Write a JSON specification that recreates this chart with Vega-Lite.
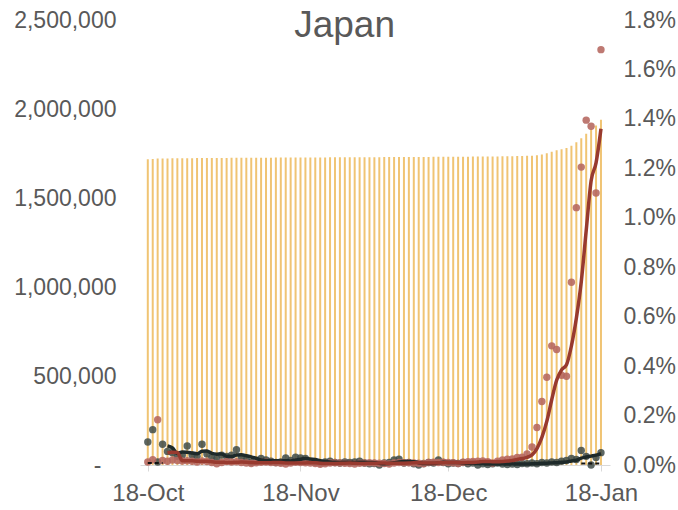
{
  "$schema": "https://vega.github.io/schema/vega-lite/v6.json",
  "width": 470,
  "height": 445,
  "autosize": {"type": "none"},
  "padding": {"left": 140, "top": 20, "right": 68, "bottom": 45},
  "background": "white",
  "config": {"view": {"stroke": null}, "font": "Liberation Sans"},
  "title": {"text": "Japan", "fontSize": 37, "font": "Liberation Sans", "fontWeight": "normal", "color": "#595959", "anchor": "middle", "frame": "bounds", "offset": -36},
  "data": {"values": [
    {"d":"2021-10-18","cum":1718300,"red":0.00012,"dark":0.00093,"redAvg":null,"darkAvg":null,"dash":0.00008},
    {"d":"2021-10-19","cum":1718660,"red":0.00021,"dark":0.00143,"redAvg":null,"darkAvg":null,"dash":0.00008},
    {"d":"2021-10-20","cum":1721790,"red":0.00183,"dark":0.00012,"redAvg":null,"darkAvg":null,"dash":0.00008},
    {"d":"2021-10-21","cum":1722100,"red":0.00018,"dark":0.00084,"redAvg":null,"darkAvg":null,"dash":0.00008},
    {"d":"2021-10-22","cum":1722360,"red":0.00015,"dark":0.00055,"redAvg":0.000498,"darkAvg":0.000774,"dash":null},
    {"d":"2021-10-23","cum":1722700,"red":0.00020,"dark":0.00050,"redAvg":0.000514,"darkAvg":0.000688,"dash":null},
    {"d":"2021-10-24","cum":1723010,"red":0.00018,"dark":0.00035,"redAvg":0.000508,"darkAvg":0.000472,"dash":null},
    {"d":"2021-10-25","cum":1723290,"red":0.00016,"dark":0.00040,"redAvg":0.000174,"darkAvg":0.000528,"dash":null},
    {"d":"2021-10-26","cum":1723580,"red":0.00017,"dark":0.00077,"redAvg":0.000172,"darkAvg":0.000514,"dash":null},
    {"d":"2021-10-27","cum":1723840,"red":0.00015,"dark":0.00040,"redAvg":0.000172,"darkAvg":0.000484,"dash":null},
    {"d":"2021-10-28","cum":1724050,"red":0.00012,"dark":0.00035,"redAvg":0.000156,"darkAvg":0.000454,"dash":null},
    {"d":"2021-10-29","cum":1724320,"red":0.00016,"dark":0.00084,"redAvg":0.000152,"darkAvg":0.000552,"dash":null},
    {"d":"2021-10-30","cum":1724560,"red":0.00014,"dark":0.00045,"redAvg":0.000148,"darkAvg":0.000562,"dash":null},
    {"d":"2021-10-31","cum":1724730,"red":0.00010,"dark":0.00030,"redAvg":0.000134,"darkAvg":0.000468,"dash":null},
    {"d":"2021-11-01","cum":1724820,"red":0.00005,"dark":0.00025,"redAvg":0.000114,"darkAvg":0.000438,"dash":null},
    {"d":"2021-11-02","cum":1724990,"red":0.00010,"dark":0.00040,"redAvg":0.000110,"darkAvg":0.000448,"dash":null},
    {"d":"2021-11-03","cum":1725230,"red":0.00014,"dark":0.00035,"redAvg":0.000106,"darkAvg":0.000350,"dash":null},
    {"d":"2021-11-04","cum":1725440,"red":0.00012,"dark":0.00040,"redAvg":0.000102,"darkAvg":0.000340,"dash":null},
    {"d":"2021-11-05","cum":1725660,"red":0.00013,"dark":0.00062,"redAvg":0.000108,"darkAvg":0.000404,"dash":null},
    {"d":"2021-11-06","cum":1725830,"red":0.00010,"dark":0.00030,"redAvg":0.000118,"darkAvg":0.000414,"dash":null},
    {"d":"2021-11-07","cum":1725970,"red":0.00008,"dark":0.00020,"redAvg":0.000114,"darkAvg":0.000374,"dash":null},
    {"d":"2021-11-08","cum":1726070,"red":0.00006,"dark":0.00010,"redAvg":0.000098,"darkAvg":0.000324,"dash":null},
    {"d":"2021-11-09","cum":1726220,"red":0.00009,"dark":0.00015,"redAvg":0.000092,"darkAvg":0.000274,"dash":null},
    {"d":"2021-11-10","cum":1726410,"red":0.00011,"dark":0.00026,"redAvg":0.000088,"darkAvg":0.000202,"dash":null},
    {"d":"2021-11-11","cum":1726620,"red":0.00012,"dark":0.00020,"redAvg":0.000092,"darkAvg":0.000182,"dash":null},
    {"d":"2021-11-12","cum":1726790,"red":0.00010,"dark":0.00015,"redAvg":0.000096,"darkAvg":0.000172,"dash":null},
    {"d":"2021-11-13","cum":1726950,"red":0.00009,"dark":0.00010,"redAvg":0.000102,"darkAvg":0.000172,"dash":null},
    {"d":"2021-11-14","cum":1727070,"red":0.00007,"dark":0.00012,"redAvg":0.000098,"darkAvg":0.000166,"dash":null},
    {"d":"2021-11-15","cum":1727140,"red":0.00004,"dark":0.00028,"redAvg":0.000084,"darkAvg":0.000170,"dash":null},
    {"d":"2021-11-16","cum":1727280,"red":0.00008,"dark":0.00018,"redAvg":0.000076,"darkAvg":0.000166,"dash":null},
    {"d":"2021-11-17","cum":1727470,"red":0.00011,"dark":0.00032,"redAvg":0.000078,"darkAvg":0.000200,"dash":null},
    {"d":"2021-11-18","cum":1727640,"red":0.00010,"dark":0.00028,"redAvg":0.000080,"darkAvg":0.000236,"dash":null},
    {"d":"2021-11-19","cum":1727800,"red":0.00009,"dark":0.00026,"redAvg":0.000084,"darkAvg":0.000264,"dash":null},
    {"d":"2021-11-20","cum":1727940,"red":0.00008,"dark":0.00015,"redAvg":0.000092,"darkAvg":0.000238,"dash":null},
    {"d":"2021-11-21","cum":1728040,"red":0.00006,"dark":0.00010,"redAvg":0.000088,"darkAvg":0.000222,"dash":null},
    {"d":"2021-11-22","cum":1728090,"red":0.00003,"dark":0.00008,"redAvg":0.000072,"darkAvg":0.000174,"dash":null},
    {"d":"2021-11-23","cum":1728180,"red":0.00005,"dark":0.00012,"redAvg":0.000062,"darkAvg":0.000142,"dash":null},
    {"d":"2021-11-24","cum":1728320,"red":0.00008,"dark":0.00015,"redAvg":0.000060,"darkAvg":0.000120,"dash":null},
    {"d":"2021-11-25","cum":1728470,"red":0.00009,"dark":0.00010,"redAvg":0.000062,"darkAvg":0.000110,"dash":null},
    {"d":"2021-11-26","cum":1728610,"red":0.00008,"dark":0.00008,"redAvg":0.000066,"darkAvg":0.000106,"dash":null},
    {"d":"2021-11-27","cum":1728730,"red":0.00007,"dark":0.00012,"redAvg":0.000074,"darkAvg":0.000114,"dash":null},
    {"d":"2021-11-28","cum":1728830,"red":0.00006,"dark":0.00010,"redAvg":0.000076,"darkAvg":0.000110,"dash":null},
    {"d":"2021-11-29","cum":1728900,"red":0.00004,"dark":0.00012,"redAvg":0.000068,"darkAvg":0.000104,"dash":null},
    {"d":"2021-11-30","cum":1729020,"red":0.00007,"dark":0.00015,"redAvg":0.000064,"darkAvg":0.000114,"dash":null},
    {"d":"2021-12-01","cum":1729160,"red":0.00008,"dark":0.00008,"redAvg":0.000064,"darkAvg":0.000114,"dash":null},
    {"d":"2021-12-02","cum":1729310,"red":0.00009,"dark":0.00005,"redAvg":0.000068,"darkAvg":0.000100,"dash":null},
    {"d":"2021-12-03","cum":1729450,"red":0.00008,"dark":0.00006,"redAvg":0.000072,"darkAvg":0.000092,"dash":null},
    {"d":"2021-12-04","cum":1729570,"red":0.00007,"dark":0.00000,"redAvg":0.000078,"darkAvg":0.000068,"dash":null},
    {"d":"2021-12-05","cum":1729670,"red":0.00006,"dark":0.00008,"redAvg":0.000076,"darkAvg":0.000054,"dash":null},
    {"d":"2021-12-06","cum":1729740,"red":0.00004,"dark":0.00010,"redAvg":0.000068,"darkAvg":0.000058,"dash":null},
    {"d":"2021-12-07","cum":1729880,"red":0.00008,"dark":0.00020,"redAvg":0.000066,"darkAvg":0.000088,"dash":null},
    {"d":"2021-12-08","cum":1730050,"red":0.00010,"dark":0.00023,"redAvg":0.000070,"darkAvg":0.000122,"dash":null},
    {"d":"2021-12-09","cum":1730200,"red":0.00009,"dark":0.00008,"redAvg":0.000074,"darkAvg":0.000138,"dash":null},
    {"d":"2021-12-10","cum":1730360,"red":0.00009,"dark":0.00010,"redAvg":0.000080,"darkAvg":0.000142,"dash":null},
    {"d":"2021-12-11","cum":1730500,"red":0.00008,"dark":0.00005,"redAvg":0.000088,"darkAvg":0.000132,"dash":null},
    {"d":"2021-12-12","cum":1730620,"red":0.00007,"dark":0.00000,"redAvg":0.000086,"darkAvg":0.000092,"dash":null},
    {"d":"2021-12-13","cum":1730710,"red":0.00005,"dark":0.00006,"redAvg":0.000076,"darkAvg":0.000058,"dash":null},
    {"d":"2021-12-14","cum":1730880,"red":0.00010,"dark":0.00010,"redAvg":0.000078,"darkAvg":0.000062,"dash":null},
    {"d":"2021-12-15","cum":1731070,"red":0.00011,"dark":0.00008,"redAvg":0.000082,"darkAvg":0.000058,"dash":null},
    {"d":"2021-12-16","cum":1731240,"red":0.00010,"dark":0.00020,"redAvg":0.000086,"darkAvg":0.000088,"dash":null},
    {"d":"2021-12-17","cum":1731430,"red":0.00011,"dark":0.00010,"redAvg":0.000094,"darkAvg":0.000108,"dash":null},
    {"d":"2021-12-18","cum":1731600,"red":0.00010,"dark":0.00005,"redAvg":0.000104,"darkAvg":0.000106,"dash":null},
    {"d":"2021-12-19","cum":1731760,"red":0.00009,"dark":0.00008,"redAvg":0.000102,"darkAvg":0.000102,"dash":null},
    {"d":"2021-12-20","cum":1731860,"red":0.00006,"dark":0.00006,"redAvg":0.000092,"darkAvg":0.000098,"dash":null},
    {"d":"2021-12-21","cum":1732050,"red":0.00011,"dark":0.00010,"redAvg":0.000094,"darkAvg":0.000078,"dash":null},
    {"d":"2021-12-22","cum":1732270,"red":0.00013,"dark":0.00005,"redAvg":0.000098,"darkAvg":0.000068,"dash":null},
    {"d":"2021-12-23","cum":1732510,"red":0.00014,"dark":0.00008,"redAvg":0.000106,"darkAvg":0.000074,"dash":null},
    {"d":"2021-12-24","cum":1732770,"red":0.00015,"dark":0.00000,"redAvg":0.000118,"darkAvg":0.000058,"dash":null},
    {"d":"2021-12-25","cum":1733050,"red":0.00016,"dark":0.00005,"redAvg":0.000138,"darkAvg":0.000056,"dash":null},
    {"d":"2021-12-26","cum":1733270,"red":0.00013,"dark":0.00002,"redAvg":0.000142,"darkAvg":0.000040,"dash":null},
    {"d":"2021-12-27","cum":1733410,"red":0.00008,"dark":0.00005,"redAvg":0.000132,"darkAvg":0.000040,"dash":null},
    {"d":"2021-12-28","cum":1733670,"red":0.00015,"dark":0.00008,"redAvg":0.000134,"darkAvg":0.000040,"dash":null},
    {"d":"2021-12-29","cum":1734010,"red":0.00020,"dark":0.00004,"redAvg":0.000144,"darkAvg":0.000048,"dash":null},
    {"d":"2021-12-30","cum":1734410,"red":0.00023,"dark":0.00002,"redAvg":0.000158,"darkAvg":0.000042,"dash":null},
    {"d":"2021-12-31","cum":1734820,"red":0.00024,"dark":0.00004,"redAvg":0.000180,"darkAvg":0.000046,"dash":null},
    {"d":"2022-01-01","cum":1735360,"red":0.00031,"dark":0.00002,"redAvg":0.000226,"darkAvg":0.000040,"dash":null},
    {"d":"2022-01-02","cum":1735910,"red":0.00032,"dark":0.00006,"redAvg":0.000260,"darkAvg":0.000036,"dash":null},
    {"d":"2022-01-03","cum":1736690,"red":0.00045,"dark":0.00005,"redAvg":0.000310,"darkAvg":0.000038,"dash":null},
    {"d":"2022-01-04","cum":1737960,"red":0.00073,"dark":0.00008,"redAvg":0.000410,"darkAvg":0.000050,"dash":null},
    {"d":"2022-01-05","cum":1740600,"red":0.00152,"dark":0.00005,"redAvg":0.000666,"darkAvg":0.000052,"dash":null},
    {"d":"2022-01-06","cum":1745070,"red":0.00257,"dark":0.00010,"redAvg":0.001118,"darkAvg":0.000068,"dash":null},
    {"d":"2022-01-07","cum":1751290,"red":0.00355,"dark":0.00008,"redAvg":0.001764,"darkAvg":0.000072,"dash":null},
    {"d":"2022-01-08","cum":1759770,"red":0.00482,"dark":0.00012,"redAvg":0.002638,"darkAvg":0.000086,"dash":null},
    {"d":"2022-01-09","cum":1768020,"red":0.00467,"dark":0.00010,"redAvg":0.003426,"darkAvg":0.000090,"dash":null},
    {"d":"2022-01-10","cum":1774460,"red":0.00363,"dark":0.00015,"redAvg":0.003848,"darkAvg":0.000110,"dash":null},
    {"d":"2022-01-11","cum":1780840,"red":0.00359,"dark":0.00018,"redAvg":0.004052,"darkAvg":0.000126,"dash":null},
    {"d":"2022-01-12","cum":1794080,"red":0.00739,"dark":0.00026,"redAvg":0.004820,"darkAvg":0.000162,"dash":null},
    {"d":"2022-01-13","cum":1812940,"red":0.01041,"dark":0.00022,"redAvg":0.005938,"darkAvg":0.000190,"dash":null},
    {"d":"2022-01-14","cum":1834990,"red":0.01205,"dark":0.00059,"redAvg":0.007414,"darkAvg":0.000280,"dash":0.00006},
    {"d":"2022-01-15","cum":1860730,"red":0.01395,"dark":0.00035,"redAvg":0.009478,"darkAvg":0.000320,"dash":0.00006},
    {"d":"2022-01-16","cum":1886390,"red":0.01370,"dark":0.00000,"redAvg":0.011500,"darkAvg":0.000360,"dash":0.00006},
    {"d":"2022-01-17","cum":1907160,"red":0.01100,"dark":0.00030,"redAvg":0.012222,"darkAvg":0.000400,"dash":0.00006},
    {"d":"2022-01-18","cum":1939360,"red":0.01680,"dark":0.00050,"redAvg":0.013600,"darkAvg":0.000460,"dash":0.00006}
  ]},
  "encoding": {
    "x": {
      "field": "d", "type": "temporal",
      "scale": {"type": "utc", "padding": 0, "domain": [{"year": 2021, "month": 10, "date": 16, "hours": 10, "utc": true}, {"year": 2022, "month": 1, "date": 19, "hours": 20, "utc": true}]},
      "axis": {
        "values": [{"year": 2021, "month": 10, "date": 18, "utc": true}, {"year": 2021, "month": 11, "date": 18, "utc": true}, {"year": 2021, "month": 12, "date": 18, "utc": true}, {"year": 2022, "month": 1, "date": 18, "utc": true}],
        "labelExpr": "utcFormat(datum.value, '%d-%b')", "title": null, "grid": false,
        "domainColor": "#D9D9D9", "tickColor": "#D9D9D9", "tickSize": 6,
        "labelFontSize": 24, "labelColor": "#595959", "labelFont": "Liberation Sans", "labelPadding": 10, "labelFlush": false
      }
    }
  },
  "layer": [
    {
      "mark": {"type": "bar", "size": 2, "color": "#F0C473"},
      "encoding": {
        "y": {"field": "cum", "type": "quantitative", "scale": {"domain": [0, 2500000], "nice": false},
          "axis": {"orient": "left", "values": [0, 500000, 1000000, 1500000, 2000000, 2500000], "labelExpr": "datum.value == 0 ? '-' : format(datum.value, ',')", "domain": false, "ticks": false, "tickSize": 0, "grid": false, "title": null, "labelFontSize": 23, "labelColor": "#595959", "labelFont": "Liberation Sans", "labelPadding": {"condition": {"test": "datum.value == 0", "value": 39}, "value": 24}}}
      }
    },
    {
      "layer": [
        {
          "mark": {"type": "point", "filled": true, "size": 55, "color": "#3F4B48", "opacity": 0.85},
          "encoding": {"y": {"field": "dark", "type": "quantitative", "scale": {"domain": [0, 0.018], "nice": false},
            "axis": {"orient": "right", "values": [0, 0.002, 0.004, 0.006, 0.008, 0.01, 0.012, 0.014, 0.016, 0.018], "format": ".1%", "domain": false, "ticks": false, "tickSize": 0, "grid": false, "title": null, "labelFontSize": 23, "labelColor": "#595959", "labelFont": "Liberation Sans", "labelPadding": 13}}}
        },
        {
          "mark": {"type": "point", "filled": true, "size": 55, "color": "#B5675E", "opacity": 0.88},
          "encoding": {"y": {"field": "red", "type": "quantitative", "scale": {"domain": [0, 0.018], "nice": false},
            "axis": {"orient": "right", "values": [0, 0.002, 0.004, 0.006, 0.008, 0.01, 0.012, 0.014, 0.016, 0.018], "format": ".1%", "domain": false, "ticks": false, "tickSize": 0, "grid": false, "title": null, "labelFontSize": 23, "labelColor": "#595959", "labelFont": "Liberation Sans", "labelPadding": 13}}}
        },
        {
          "mark": {"type": "line", "color": "#1E2A2A", "strokeWidth": 3.5, "interpolate": "monotone"},
          "encoding": {"y": {"field": "darkAvg", "type": "quantitative", "scale": {"domain": [0, 0.018], "nice": false},
            "axis": {"orient": "right", "values": [0, 0.002, 0.004, 0.006, 0.008, 0.01, 0.012, 0.014, 0.016, 0.018], "format": ".1%", "domain": false, "ticks": false, "tickSize": 0, "grid": false, "title": null, "labelFontSize": 23, "labelColor": "#595959", "labelFont": "Liberation Sans", "labelPadding": 13}}}
        },
        {
          "mark": {"type": "line", "color": "#983A2F", "strokeWidth": 3.5, "interpolate": "monotone"},
          "encoding": {"y": {"field": "redAvg", "type": "quantitative", "scale": {"domain": [0, 0.018], "nice": false},
            "axis": {"orient": "right", "values": [0, 0.002, 0.004, 0.006, 0.008, 0.01, 0.012, 0.014, 0.016, 0.018], "format": ".1%", "domain": false, "ticks": false, "tickSize": 0, "grid": false, "title": null, "labelFontSize": 23, "labelColor": "#595959", "labelFont": "Liberation Sans", "labelPadding": 13}}}
        },
        {
          "mark": {"type": "line", "color": "#111111", "strokeWidth": 2, "strokeDash": [4, 3], "invalid": "break-paths-show-domains"},
          "encoding": {"y": {"field": "dash", "type": "quantitative", "scale": {"domain": [0, 0.018], "nice": false},
            "axis": {"orient": "right", "values": [0, 0.002, 0.004, 0.006, 0.008, 0.01, 0.012, 0.014, 0.016, 0.018], "format": ".1%", "domain": false, "ticks": false, "tickSize": 0, "grid": false, "title": null, "labelFontSize": 23, "labelColor": "#595959", "labelFont": "Liberation Sans", "labelPadding": 13}}}
        }
      ]
    }
  ],
  "resolve": {"scale": {"y": "independent"}}
}
